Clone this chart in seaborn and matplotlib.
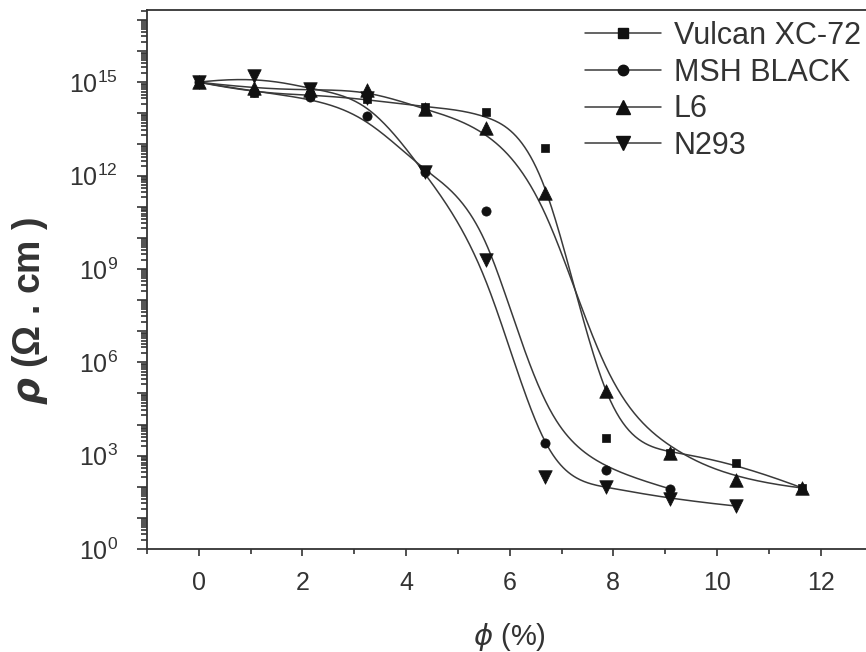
import numpy as np
import pandas as pd
import matplotlib
matplotlib.use("Agg")
import matplotlib.pyplot as plt
import seaborn as sns
from matplotlib.ticker import LogLocator, FuncFormatter, MultipleLocator, NullFormatter
from matplotlib.lines import Line2D

# ---- data ----
phi = [0.0, 1.06, 2.14, 3.25, 4.36, 5.55, 6.69, 7.86, 9.10, 10.37, 11.65]
vulcan = [1.0e15, 4.5e14, 4.0e14, 2.8e14, 1.6e14, 1.1e14, 7.6e12, 3.7e3, 1.26e3, 5.8e2, 91]
msh = [1.0e15, 5.0e14, 3.3e14, 8.0e13, 1.26e12, 7.2e10, 2.5e3, 3.5e2, 85]
l6 = [1.0e15, 6.3e14, 5.6e14, 5.6e14, 1.35e14, 3.5e13, 2.75e11, 1.2e5, 1.2e3, 1.66e2, 91]
n293 = [1.0e15, 1.6e15, 6.0e14, 3.2e14, 1.26e12, 2.0e9, 2.0e2, 1.0e2, 40, 24]

series_names = ["Vulcan XC-72", "MSH BLACK", "L6", "N293"]
series_vals = [vulcan, msh, l6, n293]
markers = ["s", "o", "^", "v"]
msizes = [36, 44, 95, 95]
leg_ms = [6.5, 7.5, 10, 10]

sns.set_theme(style="ticks")
plt.rcParams["font.family"] = ["Liberation Sans", "DejaVu Sans"]
plt.rcParams["mathtext.fontset"] = "custom"
plt.rcParams["mathtext.rm"] = "Liberation Sans"
plt.rcParams["mathtext.it"] = "DejaVu Sans:italic"
plt.rcParams["mathtext.bf"] = "DejaVu Sans:italic:bold"
plt.rcParams["mathtext.default"] = "regular"

TXT = "#333333"


def bspline_connector(cx, cy, k=3, n=500):
    """Clamped uniform B-spline using the data points as control points
    (the 'B-spline' line connection of the original plot)."""
    P = np.column_stack([cx, cy]).astype(float)
    m = len(P)
    k = min(k, m - 1)
    knots = np.concatenate([np.zeros(k), np.arange(0, m - k + 1),
                            np.full(k, m - k)]).astype(float)
    t = np.linspace(0, m - k, n)
    t[-1] -= 1e-9
    N = np.zeros((n, len(knots) - 1))
    for i in range(len(knots) - 1):
        N[:, i] = ((knots[i] <= t) & (t < knots[i + 1])).astype(float)
    for p in range(1, k + 1):
        newN = np.zeros((n, len(knots) - 1 - p))
        for i in range(len(knots) - 1 - p):
            d1 = knots[i + p] - knots[i]
            d2 = knots[i + p + 1] - knots[i + 1]
            a = (t - knots[i]) / d1 if d1 > 0 else 0.0
            b = (knots[i + p + 1] - t) / d2 if d2 > 0 else 0.0
            newN[:, i] = a * N[:, i] + b * N[:, i + 1]
        N = newN
    C = N @ P
    return C[:, 0], C[:, 1]


fig = plt.figure(figsize=(8.66, 6.52), dpi=100)
ax = fig.add_axes([147 / 866, 103 / 652, (872.4 - 147) / 866, 539 / 652])

for name, vals, mk, ms in zip(series_names, series_vals, markers, msizes):
    xs = np.array(phi[: len(vals)])
    ys = np.array(vals, float)
    bx, by = bspline_connector(xs, np.log10(ys))
    sns.lineplot(x=bx, y=10 ** by, ax=ax, color="#3a3a3a", lw=1.1,
                 legend=False, sort=False, estimator=None)
    sns.scatterplot(x=xs, y=ys, ax=ax, marker=mk, s=ms, color="#111111",
                    edgecolor="#111111", linewidth=0.5, legend=False, zorder=3)

ax.set_yscale("log")
ax.set_xlim(-1, 13)
ax.set_ylim(1, 10 ** 17.32)

ax.xaxis.set_major_locator(MultipleLocator(2))
ax.xaxis.set_minor_locator(MultipleLocator(1))
ax.yaxis.set_major_locator(LogLocator(base=10, numticks=40))
ax.yaxis.set_minor_locator(LogLocator(base=10, subs=np.arange(2, 10), numticks=40))
ax.yaxis.set_minor_formatter(NullFormatter())


def yfmt(v, p):
    e = int(round(np.log10(v)))
    return f"$10^{{{e}}}$" if e % 3 == 0 and e <= 15 else ""


ax.yaxis.set_major_formatter(FuncFormatter(yfmt))

ax.tick_params(axis="both", which="both", direction="out", colors=TXT,
               labelcolor=TXT, width=1.2)
ax.tick_params(axis="y", which="major", length=7, labelsize=18, pad=14)
ax.tick_params(axis="y", which="minor", length=4)
ax.tick_params(axis="x", which="major", length=5, labelsize=18, pad=11)
ax.tick_params(axis="x", which="minor", length=3.5)

for sp in ax.spines.values():
    sp.set_color(TXT)
    sp.set_linewidth(1.3)

ax.set_xlabel(r"$\mathit{\phi}$ (%)", fontsize=21, color=TXT)
ax.xaxis.set_label_coords(0.5, -0.134)
ax.set_ylabel(r"$\mathbf{\rho}$ (Ω . cm )", fontsize=27, fontweight="bold",
              color=TXT)
ax.yaxis.set_label_coords(-0.134, 0.442)

handles = [Line2D([], [], color="#3a3a3a", lw=1.1, marker=mk, ms=lm,
                  markerfacecolor="#111111", markeredgecolor="#111111")
           for mk, lm in zip(markers, leg_ms)]
leg = fig.legend(handles, series_names, loc="upper left",
                 bbox_to_anchor=(585 / 866, 1 - 21 / 652), frameon=False,
                 fontsize=22, handlelength=2.5, handletextpad=0.4,
                 labelspacing=0.22, borderpad=0, borderaxespad=0)
for t in leg.get_texts():
    t.set_color(TXT)

fig.savefig("out.png", dpi=100)
